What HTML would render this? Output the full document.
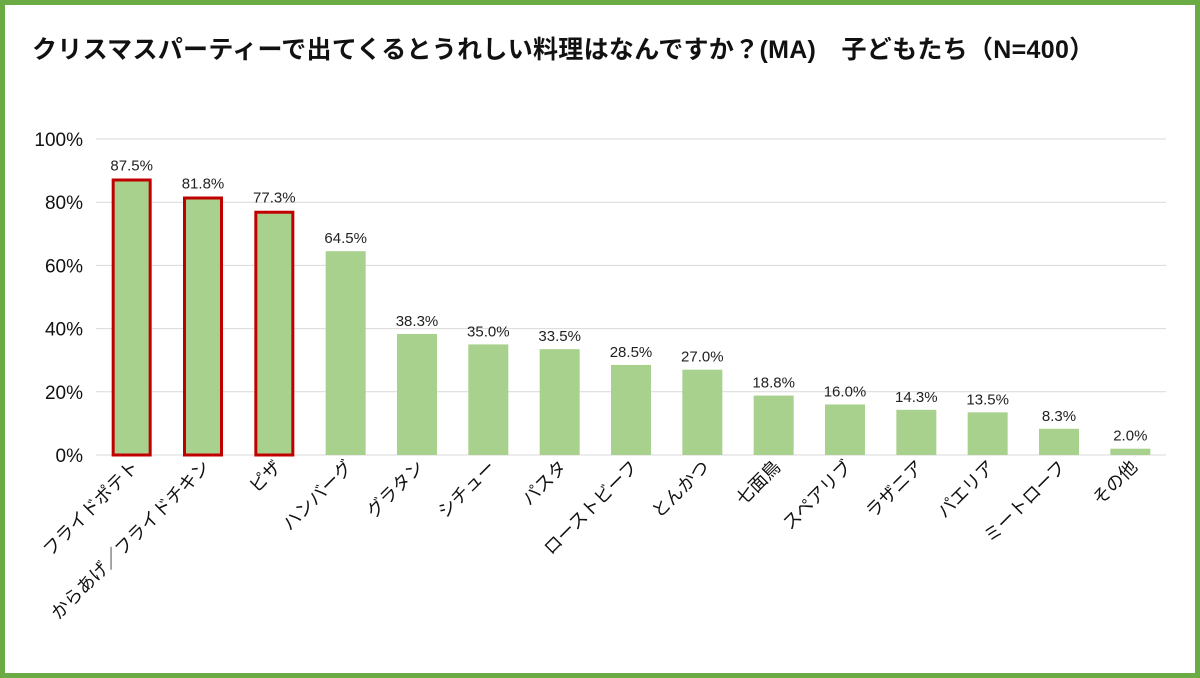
<!DOCTYPE html>
<html><head><meta charset="utf-8"><style>
html,body{margin:0;padding:0;background:#fff}
svg{display:block;font-family:"Liberation Sans","Noto Sans CJK JP",sans-serif}
</style></head><body>
<svg width="1200" height="678" viewBox="0 0 1200 678">
<rect x="2.5" y="2.5" width="1195" height="673" fill="#fff" stroke="#6aab45" stroke-width="5"/>
<text x="32" y="58" font-size="25" font-weight="bold" fill="#111" letter-spacing="0.3">クリスマスパーティーで出てくるとうれしい料理はなんですか？(MA)　子どもたち（N=400）</text>
<g id="grid"></g><g id="bars"></g><g id="labels"></g>
</svg>
<script>
const categories=["フライドポテト","からあげ／フライドチキン","ピザ","ハンバーグ","グラタン","シチュー","パスタ","ローストビーフ","とんかつ","七面鳥","スペアリブ","ラザニア","パエリア","ミートローフ","その他"];
const values=[87.5,81.8,77.3,64.5,38.3,35.0,33.5,28.5,27.0,18.8,16.0,14.3,13.5,8.3,2.0];
const highlighted=[true,true,true,false,false,false,false,false,false,false,false,false,false,false,false];
const yTicks=[0,20,40,60,80,100];
const NS="http://www.w3.org/2000/svg";
const y0=455,y1=139,xL=96,xR=1166;
const y=v=>y0-(v/100)*(y0-y1);
const step=(xR-xL)/categories.length;
const xc=i=>xL+step*(i+0.5);
function mk(t,a,p){const e=document.createElementNS(NS,t);for(const k in a)e.setAttribute(k,a[k]);p.appendChild(e);return e;}
const grid=document.getElementById('grid'),bars=document.getElementById('bars'),labels=document.getElementById('labels');
yTicks.forEach(t=>{
 const l=mk('line',{x1:xL,x2:xR,y1:y(t),y2:y(t),stroke:'#d9d9d9','stroke-width':1},grid);
 
 
 const tx=mk('text',{x:83,y:y(t)+7,'text-anchor':'end','font-size':19,fill:'#111'},grid);
 tx.textContent=t+'%';
 
 
});
const bw=40;
values.forEach((v,i)=>{
 const h=highlighted[i];
 const r=mk('rect',{x:xc(i)-bw/2+(h?1.5:0),y:y(v)+(h?1.5:0),width:bw-(h?3:0),height:y0-y(v)-(h?1.5:0),fill:'#a9d18e',stroke:h?'#c00000':'none','stroke-width':h?3:0},bars);
 
 
 const vl=mk('text',{x:xc(i),y:y(v)-8,'text-anchor':'middle','font-size':15,fill:'#222','font-weight':'500'},labels);
 vl.textContent=v.toFixed(1)+'%';
 
 
 const cx=xc(i)+8,cy=468;
 const cl=mk('text',{x:cx,y:cy,'text-anchor':'end','font-size':18,fill:'#111',transform:`rotate(-45 ${cx} ${cy})`},labels);
 cl.textContent=categories[i];
 
 
});
</script>
</body></html>
